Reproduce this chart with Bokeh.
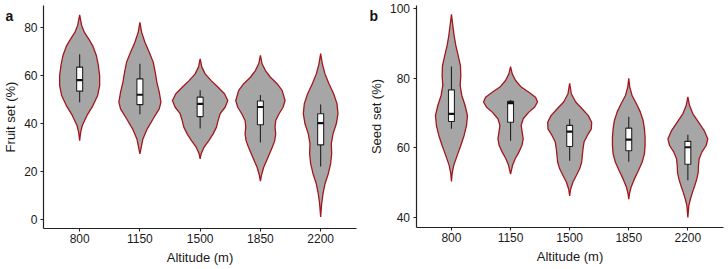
from bokeh.plotting import figure
from bokeh.layouts import row
from bokeh.models import Range1d, FixedTicker, Label
from bokeh.embed import file_html
from bokeh.resources import INLINE

# Altitude classes shared by both panels
altitudes = ["800", "1150", "1500", "1850", "2200"]

# ---- Panel a: fruit set (%) ----
# Violin outlines: value levels and half-widths (density, in category units)
fruit_800_y = [85.4, 81.0, 78.2, 75.4, 72.6, 68.5, 64.3, 60.1, 55.9, 51.8, 47.6, 43.5, 39.3, 36.5, 33.0]
fruit_800_w = [0, .033, .077, .149, .216, .277, .310, .332, .332, .299, .221, .122, .044, .017, 0]
fruit_1150_y = [82.3, 78.2, 74.0, 69.8, 65.7, 61.5, 57.3, 53.2, 49.0, 46.2, 42.1, 37.9, 33.7, 29.6, 27.5]
fruit_1150_w = [0, .028, .083, .155, .221, .254, .282, .321, .349, .321, .221, .122, .050, .017, 0]
fruit_1500_y = [67.1, 63.6, 60.8, 58.0, 55.3, 52.5, 49.7, 46.9, 44.2, 41.4, 38.6, 35.8, 33.0, 30.3, 27.5, 25.4]
fruit_1500_w = [0, .028, .083, .183, .293, .404, .459, .415, .332, .299, .271, .216, .144, .066, .017, 0]
fruit_1850_y = [68.5, 65.0, 62.2, 59.4, 56.7, 53.9, 49.7, 46.9, 44.2, 41.4, 38.6, 35.8, 33.0, 30.3, 26.1, 21.9, 18.5, 16.1]
fruit_1850_w = [0, .028, .083, .166, .277, .360, .409, .376, .310, .254, .243, .254, .238, .199, .127, .055, .017, 0]
fruit_2200_y = [69.2, 65.0, 60.8, 56.7, 52.5, 48.4, 44.2, 40.0, 35.8, 31.7, 27.5, 23.4, 19.2, 15.0, 10.8, 6.7, 1.2]
fruit_2200_w = [0, .028, .072, .138, .216, .271, .288, .260, .205, .177, .183, .166, .127, .072, .039, .017, 0]

# Box plot statistics
fruit_whisker_hi = [69.0, 65.0, 54.0, 52.0, 48.0]
fruit_q3 = [63.6, 58.7, 51.1, 49.5, 44.2]
fruit_median = [58.2, 52.1, 48.3, 47.0, 40.3]
fruit_q1 = [53.6, 48.0, 43.0, 39.6, 31.2]
fruit_whisker_lo = [49.0, 44.0, 38.0, 32.2, 22.2]

# ---- Panel b: seed set (%) ----
seed_800_y = [98.4, 95.2, 92.3, 89.5, 86.6, 83.7, 80.8, 78.0, 75.1, 72.2, 69.3, 66.4, 63.6, 60.7, 57.8, 55.0, 52.6, 50.4]
seed_800_w = [0, .023, .045, .073, .113, .152, .158, .147, .175, .231, .271, .254, .214, .158, .096, .039, .011, 0]
seed_1150_y = [83.4, 81.3, 79.4, 77.5, 76.0, 74.6, 73.2, 71.7, 70.3, 68.4, 66.5, 64.5, 62.6, 60.7, 58.8, 56.9, 55.0, 52.5]
seed_1150_w = [0, .028, .085, .180, .310, .423, .457, .406, .310, .214, .180, .197, .214, .192, .141, .079, .034, 0]
seed_1500_y = [78.6, 75.6, 73.2, 71.2, 69.3, 67.4, 65.5, 63.6, 61.7, 59.7, 57.8, 55.9, 54.0, 52.1, 50.2, 48.2, 46.2]
seed_1500_w = [0, .028, .102, .214, .316, .372, .367, .299, .243, .226, .214, .203, .169, .113, .056, .017, 0]
seed_1850_y = [80.0, 77.5, 75.1, 72.7, 70.3, 67.9, 65.5, 63.1, 60.7, 58.3, 55.9, 53.5, 51.1, 48.7, 46.8, 45.3]
seed_1850_w = [0, .017, .056, .130, .197, .243, .265, .276, .276, .265, .226, .164, .096, .039, .011, 0]
seed_2200_y = [74.7, 72.2, 69.8, 67.4, 65.0, 62.6, 60.7, 58.8, 56.9, 55.0, 53.0, 51.1, 49.2, 47.3, 45.4, 43.5, 40.0]
seed_2200_w = [0, .028, .085, .180, .276, .338, .310, .237, .192, .180, .175, .152, .118, .079, .045, .017, 0]

seed_whisker_hi = [83.4, 73.8, 68.3, 69.0, 63.8]
seed_q3 = [76.7, 73.4, 66.5, 65.7, 61.9]
seed_median = [69.8, 72.9, 64.7, 62.4, 60.2]
seed_q1 = [67.6, 67.4, 60.4, 59.2, 55.3]
seed_whisker_lo = [65.5, 62.1, 56.3, 56.0, 50.7]

fruit_yticks = [0, 20, 40, 60, 80]
seed_yticks = [40, 60, 80, 100]

FONT = "Liberation Sans"
TEXT = "#1a1a1a"
VIOLIN_FILL = "#a6a6a6"
VIOLIN_LINE = "#a3171b"
BOX_WIDTH = 0.1
W, H = 364, 269


def build_panel(tag, ylabel, profiles, whisker_lo, q1, med, q3, whisker_hi,
                yticks, y_lo, y_hi, axis_left_px, axis_bottom_px, y_top_px_val, px_per_y,
                px_per_x):
    """Canvas-wide frame; axes are pinned at fixed data locations so the
    panel tag can sit in the top-left margin."""
    n = len(altitudes)
    centers = [i + 1 for i in range(n)]
    x_lo, x_hi = 0.4, n + 0.6
    x_start = x_lo - axis_left_px / px_per_x
    x_end = x_start + W / px_per_x
    y_end = y_top_px_val
    y_start = y_end - H / px_per_y

    p = figure(width=W, height=H, output_backend="svg", toolbar_location=None,
               x_range=Range1d(x_start, x_end), y_range=Range1d(y_start, y_end),
               min_border=0)
    p.outline_line_color = None
    p.xgrid.visible = False
    p.ygrid.visible = False
    p.background_fill_color = "white"
    p.border_fill_color = "white"

    # violins: mirror each density profile around its category centre
    xs, ys = [], []
    for c, (vals, half) in zip(centers, profiles):
        xs.append([c - w for w in half] + [c + w for w in reversed(half)])
        ys.append(list(vals) + list(reversed(vals)))
    p.patches(xs, ys, fill_color=VIOLIN_FILL, line_color=VIOLIN_LINE, line_width=1.3)

    # box plots
    p.segment(x0=centers, y0=whisker_lo, x1=centers, y1=whisker_hi,
              line_color="#222222", line_width=1.1)
    p.vbar(x=centers, width=BOX_WIDTH, bottom=q1, top=q3, fill_color="white",
           line_color="#222222", line_width=1.1)
    p.segment(x0=[c - BOX_WIDTH / 2 for c in centers], y0=med,
              x1=[c + BOX_WIDTH / 2 for c in centers], y1=med,
              line_color="#111111", line_width=2.2)

    xax, yax = p.xaxis[0], p.yaxis[0]
    xax.fixed_location = y_lo
    xax.bounds = (x_lo, x_hi)
    yax.fixed_location = x_lo
    yax.bounds = (y_lo, y_hi)
    for ax in (xax, yax):
        ax.axis_line_color = "#222222"
        ax.axis_line_width = 1.2
        ax.major_tick_line_color = "#222222"
        ax.major_tick_line_width = 1.1
        ax.major_tick_in = 0
        ax.major_tick_out = 3
        ax.minor_tick_line_color = None
        ax.major_label_text_font = FONT
        ax.major_label_text_font_size = "12px"
        ax.major_label_text_color = TEXT
        ax.axis_label_text_font = FONT
        ax.axis_label_text_font_size = "13px"
        ax.axis_label_text_font_style = "normal"
        ax.axis_label_text_color = TEXT
        ax.major_label_standoff = 3
        ax.axis_label_standoff = 3

    xax.ticker = FixedTicker(ticks=centers)
    xax.major_label_overrides = {c: a for c, a in zip(centers, altitudes)}
    xax.axis_label = "Altitude (m)"
    yax.ticker = FixedTicker(ticks=yticks)
    yax.axis_label = ylabel

    # panel tag in the top-left corner
    p.add_layout(Label(x=x_start + 5 / px_per_x, y=y_end - 15 / px_per_y,
                       text=tag, text_font=FONT, text_font_size="14px",
                       text_font_style="bold", text_color="#111111",
                       text_baseline="alphabetic", text_align="left"))
    return p


pa = build_panel("a", "Fruit set (%)",
                 [(fruit_800_y, fruit_800_w), (fruit_1150_y, fruit_1150_w),
                  (fruit_1500_y, fruit_1500_w), (fruit_1850_y, fruit_1850_w),
                  (fruit_2200_y, fruit_2200_w)],
                 fruit_whisker_lo, fruit_q1, fruit_median, fruit_q3, fruit_whisker_hi,
                 fruit_yticks, -3.6, 89.3, 43, 228, 91.375, 2.4, 60.25)

pb = build_panel("b", "Seed set (%)",
                 [(seed_800_y, seed_800_w), (seed_1150_y, seed_1150_w),
                  (seed_1500_y, seed_1500_w), (seed_1850_y, seed_1850_w),
                  (seed_2200_y, seed_2200_w)],
                 seed_whisker_lo, seed_q1, seed_median, seed_q3, seed_whisker_hi,
                 seed_yticks, 37.2, 100.95, 51.5, 226.7, 102.395, 3.478, 59.1)

layout = row(pa, pb)
open("out.html", "w").write(file_html(layout, INLINE))
